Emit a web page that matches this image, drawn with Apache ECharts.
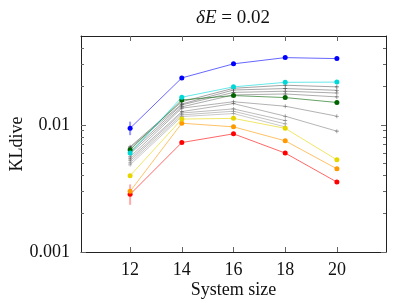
<!DOCTYPE html>
<html><head><meta charset="utf-8">
<script src="https://cdn.jsdelivr.net/npm/echarts@6/dist/echarts.min.js"></script>
<style>html,body{margin:0;padding:0;background:#fff}#c{width:399px;height:303px}</style>
</head><body><div id="c"></div>
<script>
const sizes = [12, 14, 16, 18, 20];
const xTicks = [12, 14, 16, 18, 20];
const yMajor = [0.001, 0.01];
const yMinor = [0.002,0.003,0.004,0.005,0.006,0.007,0.008,0.009,0.02,0.03,0.04];

const blue   = [0.0094, 0.0234, 0.0302, 0.0338, 0.0332];
const cyan   = [0.0060, 0.0165, 0.0199, 0.0216, 0.0217];
const green  = [0.00636, 0.0157, 0.0170, 0.0164, 0.0150];
const yellow = [0.00398, 0.0111, 0.01125, 0.00939, 0.00531];
const orange = [0.0030, 0.0103, 0.00965, 0.00749, 0.00451];
const red    = [0.00284, 0.00726, 0.0085, 0.0060, 0.00355];

const grey1 = [0.00672, 0.0152, 0.0194, 0.0205, 0.0199];
const grey2 = [0.0066, 0.0146, 0.0188, 0.0193, 0.0187];
const grey3 = [0.00614, 0.01436, 0.0180, 0.0184, 0.0178];
const grey4 = [0.00592, 0.01385, 0.0172, 0.0175, 0.0166];
const grey5 = [0.0056, 0.01353, 0.0152, 0.01402, 0.0117];
const grey6 = [0.0054, 0.01272, 0.0147, 0.0117, 0.00892];
const grey7 = [0.00522, 0.0124, 0.01335, 0.0108, null];
const grey8 = [0.00503, 0.01198, 0.0128, 0.01018, null];
const grey9 = [0.00485, 0.01162, 0.01227, 0.00964, null];

// error bars at system size 12: [low, high]
const blueErr = [0.0083, 0.0106];
const redErr  = [0.00235, 0.0034];

const FONT = 'Liberation Serif';
const YMIN = 0.001, YMAX = 0.05, XMIN = 10.1, XMAX = 21.9;
const LYMIN = Math.log10(YMIN), LYMAX = Math.log10(YMAX);
const lg = a => a.map(Math.log10);

function pairs(vals){ return sizes.map((s,i)=>[s, vals[i]]); }
const plusPath = 'path://M0,4.2H4.2V0H5.8V4.2H10V5.8H5.8V10H4.2V5.8H0Z';

function colored(name, vals, color){
  return {name, type:'line', data:pairs(vals), symbol:'circle', symbolSize:5, z:5,
    itemStyle:{color}, lineStyle:{color, width:1, opacity:0.6}, emphasis:{disabled:true}};
}
function greyS(name, vals, shade){
  return {name, type:'line', data:pairs(vals), symbol:plusPath, symbolSize:4, z:3, connectNulls:false,
    itemStyle:{color:shade, opacity:0.8}, lineStyle:{color:shade, width:1, opacity:0.45}, emphasis:{disabled:true}};
}
const errData = [[12, blueErr[0], blueErr[1], '#9999ff'], [12, redErr[0], redErr[1], '#ffaaaa']];

const chart = echarts.init(document.getElementById('c'), null, {renderer:'canvas'});
const tickColor = '#222';
chart.setOption({
  animation:false,
  grid:{left:81, right:13, top:36, bottom:51, containLabel:false, outerBoundsMode:'none'},
  graphic:[{type:'text', x:233, y:18, style:{
    text:'{i|δE} = 0.02', fill:'#111', align:'center', verticalAlign:'middle',
    font:'19px "Liberation Serif"',
    rich:{i:{fontStyle:'italic', fontFamily:FONT, fontSize:19, fill:'#111'}}
  }}],
  xAxis:[
    {type:'value', min:XMIN, max:XMAX, position:'bottom',
     axisLine:{show:true, lineStyle:{color:tickColor, width:1}},
     axisTick:{show:true, inside:true, length:5, customValues:xTicks, lineStyle:{color:'#666'}},
     axisLabel:{customValues:xTicks, color:'#111', fontFamily:FONT, fontSize:18, margin:9},
     splitLine:{show:false},
     name:'System size', nameLocation:'middle', nameGap:29, nameMoveOverlap:false,
     nameTextStyle:{color:'#111', fontFamily:FONT, fontSize:18}},
    {type:'value', min:XMIN, max:XMAX, position:'top',
     axisLine:{show:true, lineStyle:{color:tickColor, width:1}},
     axisTick:{show:true, inside:true, length:5, customValues:xTicks, lineStyle:{color:'#666'}},
     axisLabel:{show:false}, splitLine:{show:false}}
  ],
  yAxis:[
    {type:'log', logBase:10, min:YMIN, max:YMAX, position:'left',
     axisLine:{show:true, lineStyle:{color:tickColor, width:1}},
     axisTick:{show:true, inside:true, length:5, lineStyle:{color:'#666'}},
     axisLabel:{color:'#111', fontFamily:FONT, fontSize:18, margin:11, showMaxLabel:false,
       formatter:v=>{ const l=Math.log10(v); return Math.abs(l-Math.round(l))<1e-6 ? (v<0.005?'0.001':'0.01') : ''; }},
     splitLine:{show:false},
     name:'KLdive', nameLocation:'middle', nameGap:55, nameRotate:90, nameMoveOverlap:false,
     nameTextStyle:{color:'#111', fontFamily:FONT, fontSize:18}},
    {type:'value', min:LYMIN, max:LYMAX, position:'left', offset:0,
     axisLine:{show:false}, axisLabel:{show:false}, splitLine:{show:false},
     axisTick:{show:true, inside:true, length:3, customValues:lg(yMinor), lineStyle:{color:'#666'}}},
    {type:'value', min:LYMIN, max:LYMAX, position:'right', offset:0,
     axisLine:{show:true, lineStyle:{color:tickColor, width:1}}, axisLabel:{show:false}, splitLine:{show:false},
     axisTick:{show:true, inside:true, length:5, customValues:lg(yMajor), lineStyle:{color:'#666'}}},
    {type:'value', min:LYMIN, max:LYMAX, position:'right', offset:0,
     axisLine:{show:false}, axisLabel:{show:false}, splitLine:{show:false},
     axisTick:{show:true, inside:true, length:3, customValues:lg(yMinor), lineStyle:{color:'#666'}}}
  ],
  series:[
    {type:'custom', name:'err', data:errData, z:2,
     renderItem:(params, api)=>{
       const p1 = api.coord([api.value(0), api.value(1)]);
       const p2 = api.coord([api.value(0), api.value(2)]);
       return {type:'line', shape:{x1:p1[0], y1:p1[1], x2:p2[0], y2:p2[1]},
         style:{stroke:errData[params.dataIndex][3], lineWidth:2}};
     }, encode:{x:0, y:[1,2]}},
    greyS('g9', grey9, '#8a8a8a'),
    greyS('g8', grey8, '#7a7a7a'),
    greyS('g7', grey7, '#6a6a6a'),
    greyS('g6', grey6, '#5a5a5a'),
    greyS('g5', grey5, '#555'),
    greyS('g4', grey4, '#4a4a4a'),
    greyS('g3', grey3, '#444'),
    greyS('g2', grey2, '#3a3a3a'),
    greyS('g1', grey1, '#333'),
    colored('red', red, '#ff0000'),
    colored('orange', orange, '#ff9900'),
    colored('yellow', yellow, '#e6d600'),
    colored('green', green, '#006400'),
    colored('cyan', cyan, '#00d8d8'),
    colored('blue', blue, '#0000ff')
  ]
});
</script></body></html>
